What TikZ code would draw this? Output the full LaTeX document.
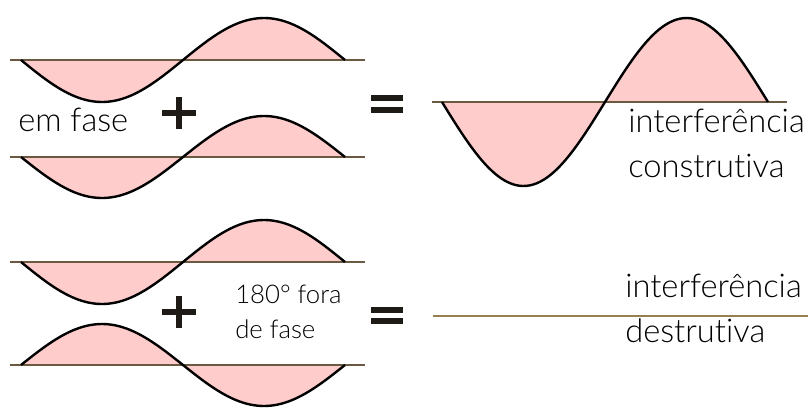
\documentclass[tikz,border=0pt]{standalone}
\usepackage{fontspec}
\newfontfamily\lightfont{Lato Light}[Ligatures={NoCommon,NoContextual}]
\definecolor{pinkfill}{RGB}{255,204,204}
\definecolor{axiscol}{RGB}{105,90,65}
\definecolor{destcol}{RGB}{150,128,80}
\definecolor{symcol}{RGB}{30,26,22}
\begin{document}
\begin{tikzpicture}[x=0.75pt,y=-0.75pt,
  axis/.style={line width=1.3pt, draw=axiscol},
  wave/.style={line width=1.8pt, draw=black, line join=round},
  lobe/.style={fill=pinkfill},
  sym/.style={line width=4pt, draw=symcol},
  big/.style={inner sep=0, anchor=base west, font=\lightfont\fontsize{24.5}{28}\selectfont},
  small/.style={inner sep=0, anchor=base west, font=\lightfont\fontsize{19.3}{22}\selectfont}]
\useasboundingbox (0,0) rectangle (808,408);
% in-phase waves
\fill[lobe] plot[domain=21:345, samples=90, smooth] (\x, {60 + 42*sin((\x-21)/324*360)}) -- cycle;
\draw[axis] (10,60) -- (365,60);
\draw[wave] plot[domain=21:345, samples=90, smooth] (\x, {60 + 42*sin((\x-21)/324*360)});
\fill[lobe] plot[domain=21:345, samples=90, smooth] (\x, {157 + 41*sin((\x-21)/324*360)}) -- cycle;
\draw[axis] (10,157) -- (365,157);
\draw[wave] plot[domain=21:345, samples=90, smooth] (\x, {157 + 41*sin((\x-21)/324*360)});
% constructive result
\fill[lobe] plot[domain=442:768, samples=90, smooth] (\x, {102 + 84*sin((\x-442)/326*360)}) -- cycle;
\draw[axis] (432,102) -- (787,102);
\draw[wave] plot[domain=442:768, samples=90, smooth] (\x, {102 + 84*sin((\x-442)/326*360)});
% out of phase waves
\fill[lobe] plot[domain=21:345, samples=90, smooth] (\x, {262 + 42*sin((\x-21)/324*360)}) -- cycle;
\draw[axis] (10,262) -- (365,262);
\draw[wave] plot[domain=21:345, samples=90, smooth] (\x, {262 + 42*sin((\x-21)/324*360)});
\fill[lobe] plot[domain=21:345, samples=90, smooth] (\x, {365 - 41*sin((\x-21)/324*360)}) -- cycle;
\draw[axis] (10,365) -- (365,365);
\draw[wave] plot[domain=21:345, samples=90, smooth] (\x, {365 - 41*sin((\x-21)/324*360)});
% destructive result
\coordinate (d0) at (433,316);
\coordinate (d1) at (808,316);
\draw[line width=1.9pt, draw=destcol] (d0) -- (d1);
% plus and equals signs
\draw[sym] (162,113) -- (196,113) (179,97) -- (179,129);
\draw[sym] (162,312) -- (196,312) (179,296) -- (179,328);
\draw[sym] (371,98) -- (403,98) (371,110) -- (403,110);
\draw[sym] (371,310) -- (403,310) (371,321) -- (403,321);
% labels
\node[big] (emfase) at (18,131) {em fase};
\node[big] (int1) at (628,132) {interferência};
\node[big] (cons) at (628,177) {construtiva};
\node[small] (fora) at (235,303) {180° fora};
\node[small] (defase) at (235,338) {de fase};
\node[big] (int2) at (625,297) {interferência};
\node[big] (dest) at (625,342) {destrutiva};
\end{tikzpicture}
\end{document}
